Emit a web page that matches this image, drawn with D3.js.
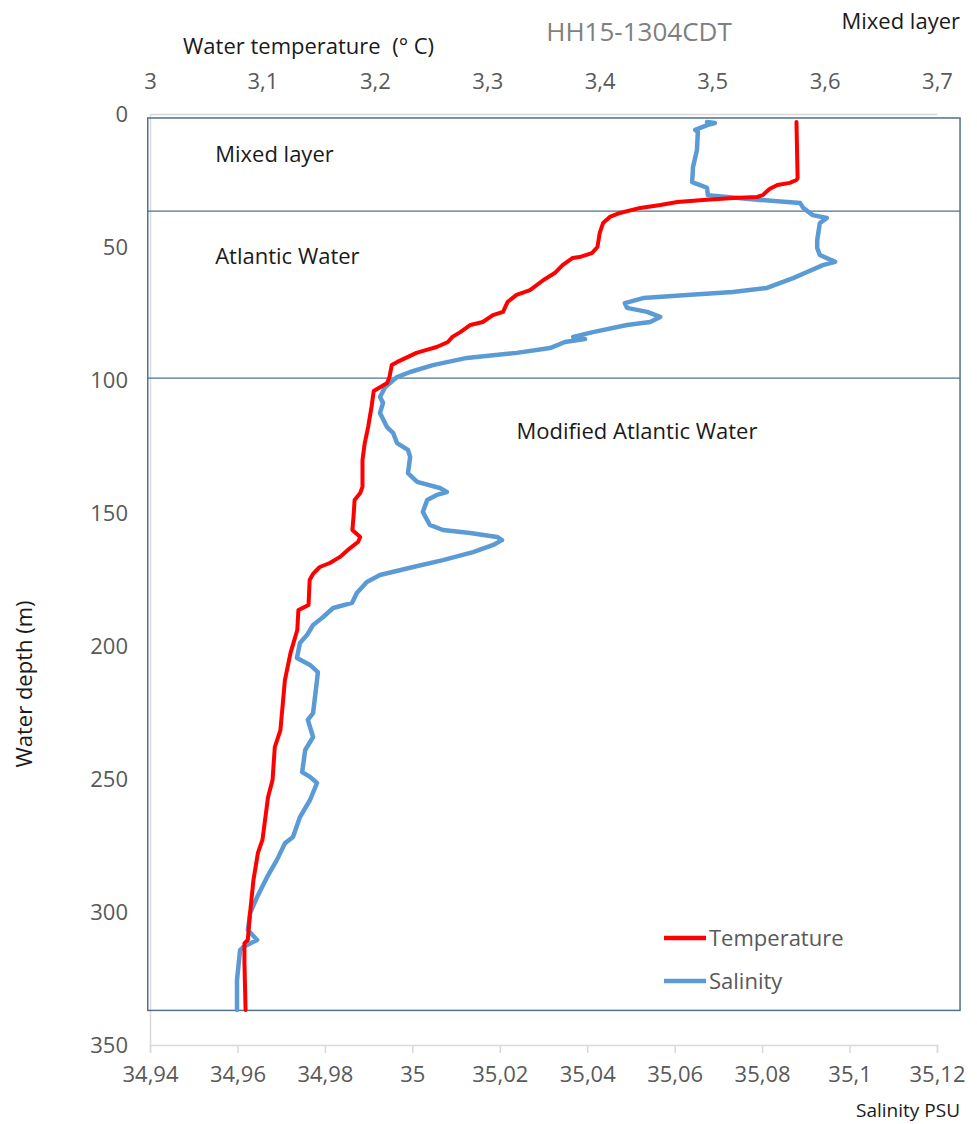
<!DOCTYPE html>
<html>
<head>
<meta charset="utf-8">
<script src="https://cdn.jsdelivr.net/npm/d3@7"></script>
<style>
  html, body { margin: 0; padding: 0; background: #fff; }
  svg { display: block; font-family: "Open Sans", "Noto Sans", sans-serif; }
</style>
</head>
<body>
<svg id="chart" width="977" height="1124"></svg>
<script>
// CTD profile HH15-1304: temperature and salinity against depth
const tempDepth = [3.0, 24.1, 24.8, 25.9, 26.7, 28.2, 30.5, 31.2, 31.6, 32.3, 33.1, 34.2, 35.3, 37.2, 38.7, 41.0, 44.7, 50.0, 52.3, 53.8, 54.1, 56.8, 59.8, 62.4, 66.2, 68.0, 70.7, 74.4, 75.6, 78.2, 79.3, 82.0, 83.8, 85.7, 87.6, 88.7, 89.8, 91.4, 93.2, 94.4, 98.9, 101.1, 102.6, 104.1, 110.2, 117.7, 123.7, 130.1, 140.2, 142.5, 145.1, 151.5, 156.4, 159.0, 160.9, 163.2, 166.5, 168.8, 170.3, 172.9, 175.2, 184.6, 186.5, 194.0, 202.6, 212.8, 231.6, 238.0, 250.4, 256.8, 272.9, 277.8, 288.0, 300.4, 310.5, 311.7, 319.2, 336.8];
const tempValue = [3.575, 3.576, 3.575, 3.569, 3.558, 3.551, 3.545, 3.540, 3.519, 3.492, 3.469, 3.454, 3.436, 3.418, 3.409, 3.403, 3.400, 3.398, 3.393, 3.382, 3.376, 3.367, 3.360, 3.350, 3.338, 3.326, 3.318, 3.314, 3.305, 3.296, 3.285, 3.276, 3.269, 3.265, 3.255, 3.246, 3.237, 3.229, 3.220, 3.215, 3.213, 3.211, 3.205, 3.199, 3.197, 3.194, 3.191, 3.189, 3.189, 3.187, 3.182, 3.181, 3.180, 3.187, 3.185, 3.178, 3.169, 3.160, 3.151, 3.145, 3.142, 3.141, 3.132, 3.131, 3.125, 3.120, 3.116, 3.111, 3.109, 3.105, 3.100, 3.096, 3.092, 3.089, 3.087, 3.084, 3.084, 3.085];

const salDepth = [3.0, 3.4, 4.1, 6.0, 6.8, 13.5, 19.9, 25.6, 26.7, 27.8, 30.5, 31.2, 32.3, 33.5, 35.3, 38.0, 39.1, 41.0, 47.4, 50.4, 53.0, 55.6, 56.8, 59.4, 61.7, 65.4, 66.9, 68.0, 69.2, 71.1, 72.9, 74.4, 76.3, 78.2, 79.3, 82.0, 83.8, 84.6, 85.7, 88.0, 89.8, 91.7, 94.4, 97.0, 98.9, 101.1, 102.6, 106.4, 108.6, 112.4, 117.7, 119.9, 123.7, 126.3, 128.9, 135.0, 138.3, 140.6, 142.1, 143.2, 145.1, 149.6, 154.5, 156.4, 157.5, 159.0, 160.2, 162.0, 164.7, 167.7, 170.3, 173.3, 175.9, 180.1, 183.8, 185.7, 189.1, 192.1, 195.9, 198.9, 204.5, 207.1, 209.8, 212.8, 225.2, 227.8, 234.2, 239.1, 247.4, 249.2, 251.5, 257.9, 264.3, 271.8, 274.1, 280.5, 286.8, 294.4, 300.4, 306.8, 310.5, 313.2, 314.3, 325.6, 336.8];
const salValue = [35.0674, 35.0692, 35.0676, 35.0647, 35.0653, 35.0651, 35.0642, 35.0640, 35.0658, 35.0674, 35.0676, 35.0720, 35.0795, 35.0887, 35.0894, 35.0916, 35.0948, 35.0932, 35.0926, 35.0926, 35.0932, 35.0967, 35.0939, 35.0903, 35.0871, 35.0811, 35.0733, 35.0628, 35.0528, 35.0486, 35.0491, 35.0537, 35.0567, 35.0544, 35.0491, 35.0413, 35.0368, 35.0395, 35.0349, 35.0315, 35.0239, 35.0125, 35.0047, 34.9995, 34.9965, 34.9949, 34.9938, 34.9926, 34.9933, 34.9926, 34.9942, 34.9956, 34.9965, 34.9990, 34.9995, 34.9990, 35.0011, 35.0063, 35.0079, 35.0056, 35.0034, 35.0024, 35.0040, 35.0070, 35.0132, 35.0194, 35.0205, 35.0185, 35.0139, 35.0070, 35.0002, 34.9926, 34.9896, 34.9873, 34.9862, 34.9819, 34.9796, 34.9773, 34.9759, 34.9743, 34.9736, 34.9766, 34.9784, 34.9782, 34.9773, 34.9761, 34.9773, 34.9755, 34.9748, 34.9766, 34.9782, 34.9766, 34.9743, 34.9727, 34.9709, 34.9690, 34.9668, 34.9645, 34.9629, 34.9624, 34.9645, 34.9613, 34.9606, 34.9599, 34.9599];

const depthTicks = [0, 50, 100, 150, 200, 250, 300, 350];
const tempTicks = [3.0, 3.1, 3.2, 3.3, 3.4, 3.5, 3.6, 3.7];
const salTicks = [34.94, 34.96, 34.98, 35.00, 35.02, 35.04, 35.06, 35.08, 35.10, 35.12];

// water-mass layers
const layerNames = ["Mixed layer", "Atlantic Water", "Modified Atlantic Water"];
const layerBounds = [36.5, 99.3];   // depths of the layer boundaries
const frameDepth = [1.5, 337];      // depth extent of the framed profile area
const frameTemp = [2.998, 3.7205];  // temperature extent of the frame

const svg = d3.select("#chart");

const y = d3.scaleLinear().domain([0, 350]).range([114, 1045]);
const xT = d3.scaleLinear().domain([3, 3.7]).range([150, 937]);
const xS = d3.scaleLinear().domain([34.94, 35.12]).range([150, 937]);

const commaFmt = v => String(+v.toFixed(2)).replace(".", ",");

const axisGrey = "#d9d9d9";
const labelGrey = "#595959";
const ink = "#1a1a1a";
const fontSize = 22;

// depth axis (left)
const gY = svg.append("g").attr("transform", `translate(${xT(3)},0)`)
  .call(d3.axisLeft(y).tickValues(depthTicks).tickSize(0).tickPadding(22).tickFormat(d3.format("d")));
// temperature axis (top)
const gT = svg.append("g").attr("transform", `translate(0,${y(0)})`)
  .call(d3.axisTop(xT).tickValues(tempTicks).tickSize(0).tickPadding(25).tickFormat(commaFmt));
// salinity axis (bottom)
const gS = svg.append("g").attr("transform", `translate(0,${y(350)})`)
  .call(d3.axisBottom(xS).tickValues(salTicks).tickSize(8).tickPadding(13).tickFormat(commaFmt));

[gY, gT, gS].forEach(g => {
  g.select(".domain").attr("stroke", axisGrey).attr("stroke-width", 1.5);
  g.selectAll(".tick line").attr("stroke", axisGrey).attr("stroke-width", 1.5);
  g.selectAll(".tick text").attr("fill", labelGrey).attr("font-size", fontSize)
    .attr("font-family", "'Open Sans', 'Noto Sans', sans-serif");
});

// frame around the profile and the layer boundaries
const frameColor = "#50708e";
svg.append("rect")
  .attr("x", xT(frameTemp[0])).attr("y", y(frameDepth[0]))
  .attr("width", xT(frameTemp[1]) - xT(frameTemp[0]))
  .attr("height", y(frameDepth[1]) - y(frameDepth[0]))
  .attr("fill", "none").attr("stroke", frameColor).attr("stroke-width", 1.5);

svg.selectAll("line.layer").data(layerBounds).join("line")
  .attr("class", "layer")
  .attr("x1", xT(frameTemp[0])).attr("x2", xT(frameTemp[1]))
  .attr("y1", d => y(d)).attr("y2", d => y(d))
  .attr("stroke", frameColor).attr("stroke-width", 1.3);

// profiles
const salLine = d3.line().x(d => xS(d[1])).y(d => y(d[0]));
const tempLine = d3.line().x(d => xT(d[1])).y(d => y(d[0]));

svg.append("path")
  .datum(d3.zip(salDepth, salValue))
  .attr("d", salLine)
  .attr("fill", "none").attr("stroke", "#5b9bd5").attr("stroke-width", 4.5)
  .attr("stroke-linejoin", "round").attr("stroke-linecap", "round");

svg.append("path")
  .datum(d3.zip(tempDepth, tempValue))
  .attr("d", tempLine)
  .attr("fill", "none").attr("stroke", "#ff0000").attr("stroke-width", 4)
  .attr("stroke-linejoin", "round").attr("stroke-linecap", "round");

// layer names inside the frame
const layerLabelPos = [[3.058, 15.0], [3.058, 53.5], [3.326, 119.2]]; // [temperature, depth]
svg.selectAll("text.layerName").data(layerNames).join("text")
  .attr("class", "layerName")
  .attr("x", (d, i) => xT(layerLabelPos[i][0]))
  .attr("y", (d, i) => y(layerLabelPos[i][1]))
  .attr("dy", "0.35em")
  .attr("font-size", fontSize).attr("fill", ink)
  .text(d => d);

// titles
svg.append("text").attr("x", 639).attr("y", 41).attr("text-anchor", "middle")
  .attr("font-size", 26).attr("fill", "#7f7f7f").text("HH15-1304CDT");
svg.append("text").attr("x", 960).attr("y", 29).attr("text-anchor", "end")
  .attr("font-size", fontSize).attr("fill", ink).text("Mixed layer");
svg.append("text").attr("x", 183).attr("y", 54)
  .attr("font-size", fontSize).attr("fill", ink).attr("xml:space", "preserve")
  .text("Water temperature  (° C)");
svg.append("text").attr("x", 960).attr("y", 1117).attr("text-anchor", "end")
  .attr("font-size", 19).attr("fill", ink).text("Salinity PSU");
svg.append("text")
  .attr("transform", "translate(32,684) rotate(-90)")
  .attr("text-anchor", "middle")
  .attr("font-size", fontSize).attr("fill", ink).text("Water depth (m)");

// legend
const legendItems = [["Temperature", "#ff0000"], ["Salinity", "#5b9bd5"]];
const lg = svg.selectAll("g.legend").data(legendItems).join("g")
  .attr("class", "legend")
  .attr("transform", (d, i) => `translate(664,${938 + i * 43})`);
lg.append("line").attr("x1", 0).attr("x2", 42).attr("y1", 0).attr("y2", 0)
  .attr("stroke", d => d[1]).attr("stroke-width", 4.5);
lg.append("text").attr("x", 45).attr("dy", "0.35em")
  .attr("font-size", fontSize).attr("fill", labelGrey).text(d => d[0]);
</script>
</body>
</html>
